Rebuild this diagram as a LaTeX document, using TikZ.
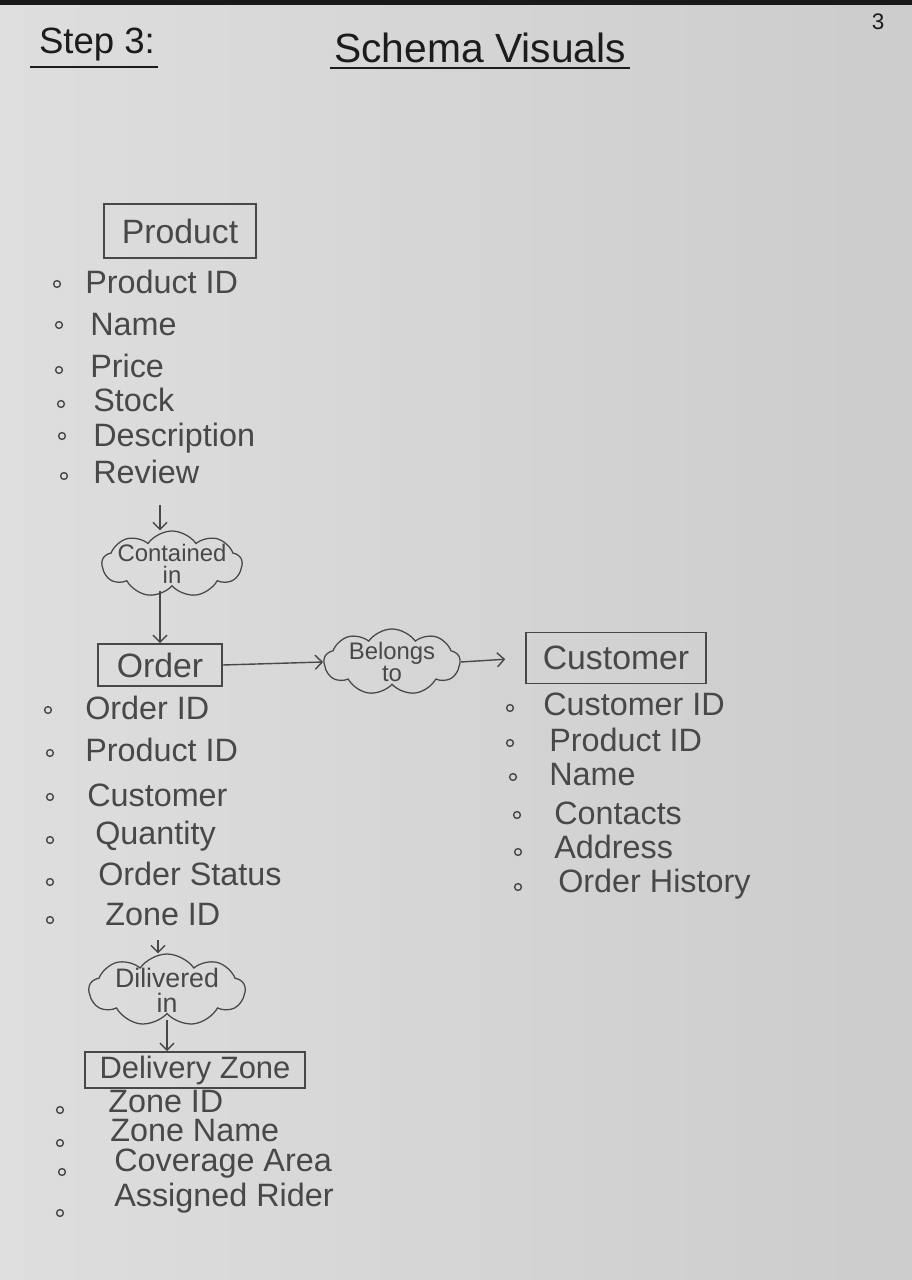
\documentclass[tikz,border=0pt]{standalone}
\usepackage{fontspec}
\setmainfont{Liberation Sans}
\usepackage{xcolor}
\usepackage{tikz}
\usetikzlibrary{positioning, shapes.symbols, arrows.meta, calc}

\definecolor{paper}{RGB}{222,222,222}
\definecolor{paperdark}{RGB}{204,204,204}
\definecolor{pencil}{RGB}{72,72,72}
\definecolor{ink}{RGB}{28,28,28}

\begin{document}
\begin{tikzpicture}[x=0.025cm, y=-0.025cm, >={Straight Barb[length=5pt, width=10pt]},
    entity/.style={draw=pencil, line width=1.1pt, rectangle, text=pencil, inner sep=0pt, font=\fontsize{24}{28}\selectfont},
    attr/.style={anchor=west, text=pencil, inner sep=0pt, text height=0.6cm, text depth=0.15cm, font=\fontsize{23}{27}\selectfont},
    dot/.style={draw=pencil, circle, line width=1pt, minimum size=0.17cm, inner sep=0pt},
    rel/.style={draw=pencil, cloud, cloud puffs=9, cloud puff arc=110, cloud ignores aspect, line width=0.9pt, inner sep=0pt},
    reltext/.style={text=pencil, align=center, inner sep=0pt, font=\fontsize{17}{16}\selectfont},
    link/.style={->, draw=pencil, line width=1pt},
    title/.style={text=ink, inner sep=0pt, font=\fontsize{29}{34}\selectfont}]
      \useasboundingbox (0,0) rectangle (912,1280);
      % Paper
      \shade[left color=paper, right color=paperdark] (0,0) rectangle (912,1280);
      \fill[black!90] (0,0) rectangle (912,5);

      % Heading
      \node[title, font=\fontsize{26}{30}\selectfont] (step) at (97,45) {Step 3:};
      \node[title] (heading) at (480,48) {Schema Visuals};
      \node[title, font=\fontsize{16}{18}\selectfont] (page) at (878,22) {3};
      \draw[ink, line width=1.4pt] (30,67) -- (158,67);
      \draw[ink, line width=1.4pt] (330,68) -- (630,68);

      % Product
      \node[entity, minimum width=3.8cm, minimum height=1.35cm] (product) at (180,231) {Product};
      \node[dot] (pb1) at (57,284) {};
      \node[attr] (pa1) at (85,284) {Product ID};
      \node[dot] (pb2) at (59,325) {};
      \node[attr] (pa2) at (90,326) {Name};
      \node[dot] (pb3) at (59,370) {};
      \node[attr] (pa3) at (90,368) {Price};
      \node[dot] (pb4) at (61,404) {};
      \node[attr] (pa4) at (93,402) {Stock};
      \node[dot] (pb5) at (62,436) {};
      \node[attr] (pa5) at (93,437) {Description};
      \node[dot] (pb6) at (64,476) {};
      \node[attr] (pa6) at (93,474) {Review};

      % Contained in
      \node[rel, minimum width=3.5cm, minimum height=1.65cm,
        label={[reltext, name=containedtext]center:Contained\\in}] (contained) at (172,564) {};
      \coordinate (c1) at (160,505);
      \draw[link] (c1) -- (contained.north -| c1);

      % Order
      \node[entity, minimum width=3.1cm, minimum height=1.05cm] (order) at (160,665) {Order};
      \draw[link] ([yshift=-5pt]containedtext.south -| order.north) -- (order.north);
      \node[dot] (ob1) at (48,710) {};
      \node[attr] (oa1) at (85,710) {Order ID};
      \node[dot] (ob2) at (50,753) {};
      \node[attr] (oa2) at (85,752) {Product ID};
      \node[dot] (ob3) at (50,797) {};
      \node[attr] (oa3) at (87,797) {Customer};
      \node[dot] (ob4) at (50,840) {};
      \node[attr] (oa4) at (95,835) {Quantity};
      \node[dot] (ob5) at (50,882) {};
      \node[attr] (oa5) at (98,876) {Order Status};
      \node[dot] (ob6) at (50,920) {};
      \node[attr] (oa6) at (105,916) {Zone ID};

      % Belongs to
      \node[rel, minimum width=3.4cm, minimum height=1.65cm,
        label={[reltext, name=belongstext]center:Belongs\\to}] (belongs) at (392,662) {};
      \draw[link] (order.east) -- (belongs.west);

      % Customer
      \node[entity, minimum width=4.5cm, minimum height=1.28cm] (customer) at (616,658) {Customer};
      \draw[link, shorten >=0.5cm] (belongs.east) -- (customer.west);
      \node[dot] (cb1) at (510,708) {};
      \node[attr] (ca1) at (543,706) {Customer ID};
      \node[dot] (cb2) at (510,743) {};
      \node[attr] (ca2) at (549,742) {Product ID};
      \node[dot] (cb3) at (513,777) {};
      \node[attr] (ca3) at (549,776) {Name};
      \node[dot] (cb4) at (517,815) {};
      \node[attr] (ca4) at (554,815) {Contacts};
      \node[dot] (cb5) at (518,852) {};
      \node[attr] (ca5) at (554,849) {Address};
      \node[dot] (cb6) at (518,887) {};
      \node[attr] (ca6) at (558,883) {Order History};

      % Dilivered in
      \node[rel, minimum width=3.9cm, minimum height=1.8cm,
        label={[reltext, font=\fontsize{19}{18}\selectfont, name=diliveredtext]center:Dilivered\\in}] (dilivered) at (167,990) {};
      \coordinate (c2) at (158,940);
      \draw[link] (c2) -- (dilivered.north -| c2);

      % Delivery Zone
      \node[entity, minimum width=5.5cm, minimum height=0.9cm, font=\fontsize{22}{26}\selectfont] (dzone) at (195,1070) {Delivery Zone};
      \draw[link] ([yshift=-5pt]diliveredtext.south) -- (diliveredtext.south |- dzone.north);
      \node[dot] (zb1) at (60,1110) {};
      \node[attr] (za1) at (108,1103) {Zone ID};
      \node[dot] (zb2) at (60,1143) {};
      \node[attr] (za2) at (110,1132) {Zone Name};
      \node[dot] (zb3) at (62,1172) {};
      \node[attr] (za3) at (114,1162) {Coverage Area};
      \node[dot] (zb4) at (60,1213) {};
      \node[attr] (za4) at (114,1197) {Assigned Rider};
    \end{tikzpicture}
\end{document}
